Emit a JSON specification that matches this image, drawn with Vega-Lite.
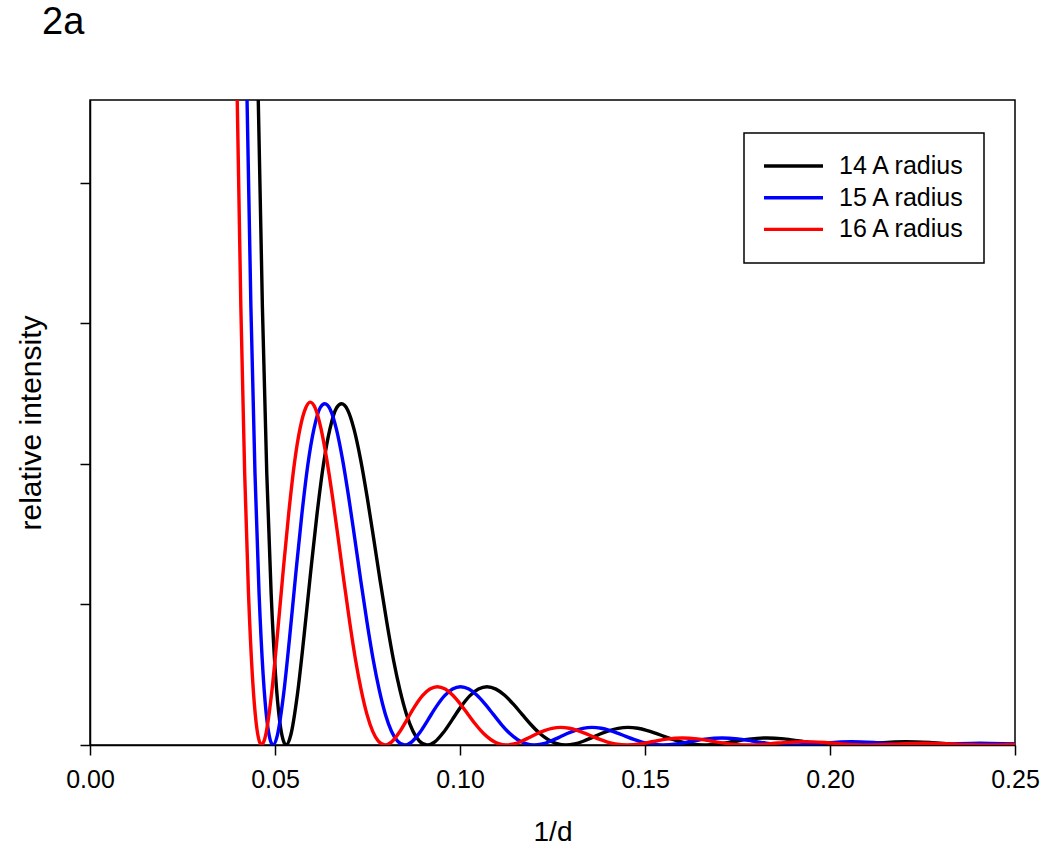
{
  "$schema": "https://vega.github.io/schema/vega-lite/v6.json",
  "autosize": {"type": "none"},
  "padding": {"left": 90, "top": 100, "right": 35, "bottom": 115},
  "width": 925,
  "height": 645,
  "background": "white",
  "title": {"text": "2a", "anchor": "start", "frame": "group", "dx": -48, "offset": 58, "fontSize": 38, "fontWeight": "normal", "font": "Liberation Sans", "color": "black"},
  "config": {
    "font": "Liberation Sans",
    "view": {"stroke": "black", "strokeWidth": 1.5},
    "axis": {"domainColor": "black", "domainWidth": 1.5, "tickColor": "black", "tickWidth": 1.5, "tickSize": 10, "grid": false, "labelColor": "black", "titleColor": "black", "labelFont": "Liberation Sans", "titleFont": "Liberation Sans", "labelFontSize": 25, "titleFontSize": 28, "titleFontWeight": "normal"},
    "legend": {"strokeWidth": 1.5}
  },
  "data": {"values": [
    {"r": "14 A radius", "s": 0.044237, "v": 6.646},
    {"r": "14 A radius", "s": 0.045417, "v": 4.670},
    {"r": "14 A radius", "s": 0.046597, "v": 3.113},
    {"r": "14 A radius", "s": 0.047776, "v": 1.934},
    {"r": "14 A radius", "s": 0.048956, "v": 1.079},
    {"r": "14 A radius", "s": 0.050136, "v": 0.501},
    {"r": "14 A radius", "s": 0.051315, "v": 0.1596},
    {"r": "14 A radius", "s": 0.052141, "v": 0.0405},
    {"r": "14 A radius", "s": 0.053002, "v": 0},
    {"r": "14 A radius", "s": 0.054264, "v": 0.0709},
    {"r": "14 A radius", "s": 0.056034, "v": 0.3556},
    {"r": "14 A radius", "s": 0.057803, "v": 0.7648},
    {"r": "14 A radius", "s": 0.059573, "v": 1.214},
    {"r": "14 A radius", "s": 0.061342, "v": 1.640},
    {"r": "14 A radius", "s": 0.063112, "v": 2.000},
    {"r": "14 A radius", "s": 0.064881, "v": 2.253},
    {"r": "14 A radius", "s": 0.066651, "v": 2.400},
    {"r": "14 A radius", "s": 0.067984, "v": 2.428},
    {"r": "14 A radius", "s": 0.069600, "v": 2.386},
    {"r": "14 A radius", "s": 0.071369, "v": 2.246},
    {"r": "14 A radius", "s": 0.073139, "v": 2.031},
    {"r": "14 A radius", "s": 0.074908, "v": 1.764},
    {"r": "14 A radius", "s": 0.076678, "v": 1.468},
    {"r": "14 A radius", "s": 0.078447, "v": 1.164},
    {"r": "14 A radius", "s": 0.080217, "v": 0.873},
    {"r": "14 A radius", "s": 0.081986, "v": 0.610},
    {"r": "14 A radius", "s": 0.083756, "v": 0.392},
    {"r": "14 A radius", "s": 0.085525, "v": 0.2195},
    {"r": "14 A radius", "s": 0.087295, "v": 0.0983},
    {"r": "14 A radius", "s": 0.089064, "v": 0.0272},
    {"r": "14 A radius", "s": 0.091129, "v": 0},
    {"r": "14 A radius", "s": 0.093193, "v": 0.0225},
    {"r": "14 A radius", "s": 0.095552, "v": 0.0903},
    {"r": "14 A radius", "s": 0.097912, "v": 0.1808},
    {"r": "14 A radius", "s": 0.100271, "v": 0.2731},
    {"r": "14 A radius", "s": 0.102630, "v": 0.3495},
    {"r": "14 A radius", "s": 0.104990, "v": 0.3981},
    {"r": "14 A radius", "s": 0.107290, "v": 0.4146},
    {"r": "14 A radius", "s": 0.109708, "v": 0.3978},
    {"r": "14 A radius", "s": 0.112068, "v": 0.3536},
    {"r": "14 A radius", "s": 0.114427, "v": 0.2902},
    {"r": "14 A radius", "s": 0.116786, "v": 0.2177},
    {"r": "14 A radius", "s": 0.119146, "v": 0.1457},
    {"r": "14 A radius", "s": 0.121505, "v": 0.0831},
    {"r": "14 A radius", "s": 0.123864, "v": 0.0372},
    {"r": "14 A radius", "s": 0.126224, "v": 0.0091},
    {"r": "14 A radius", "s": 0.128630, "v": 0},
    {"r": "14 A radius", "s": 0.130942, "v": 0.0073},
    {"r": "14 A radius", "s": 0.133302, "v": 0.0266},
    {"r": "14 A radius", "s": 0.135661, "v": 0.0527},
    {"r": "14 A radius", "s": 0.138020, "v": 0.0798},
    {"r": "14 A radius", "s": 0.140380, "v": 0.1030},
    {"r": "14 A radius", "s": 0.142739, "v": 0.1188},
    {"r": "14 A radius", "s": 0.145370, "v": 0.1251},
    {"r": "14 A radius", "s": 0.148047, "v": 0.1189},
    {"r": "14 A radius", "s": 0.150407, "v": 0.1045},
    {"r": "14 A radius", "s": 0.152766, "v": 0.0845},
    {"r": "14 A radius", "s": 0.155125, "v": 0.0618},
    {"r": "14 A radius", "s": 0.157485, "v": 0.0398},
    {"r": "14 A radius", "s": 0.159844, "v": 0.0212},
    {"r": "14 A radius", "s": 0.162203, "v": 0.0079},
    {"r": "14 A radius", "s": 0.165931, "v": 0},
    {"r": "14 A radius", "s": 0.169871, "v": 0.0073},
    {"r": "14 A radius", "s": 0.174000, "v": 0.0248},
    {"r": "14 A radius", "s": 0.178129, "v": 0.0418},
    {"r": "14 A radius", "s": 0.183024, "v": 0.0502},
    {"r": "14 A radius", "s": 0.187566, "v": 0.0433},
    {"r": "14 A radius", "s": 0.191695, "v": 0.0287},
    {"r": "14 A radius", "s": 0.195824, "v": 0.0130},
    {"r": "14 A radius", "s": 0.199952, "v": 0.0026},
    {"r": "14 A radius", "s": 0.203149, "v": 0},
    {"r": "14 A radius", "s": 0.207620, "v": 0.0042},
    {"r": "14 A radius", "s": 0.212339, "v": 0.0138},
    {"r": "14 A radius", "s": 0.220467, "v": 0.0239},
    {"r": "14 A radius", "s": 0.227674, "v": 0.0164},
    {"r": "14 A radius", "s": 0.233573, "v": 0.0056},
    {"r": "14 A radius", "s": 0.237112, "v": 0.0013},
    {"r": "14 A radius", "s": 0.240309, "v": 0},
    {"r": "14 A radius", "s": 0.247729, "v": 0.0052},
    {"r": "14 A radius", "s": 0.257803, "v": 0.0129},

    {"r": "15 A radius", "s": 0.041288, "v": 6.646},
    {"r": "15 A radius", "s": 0.042389, "v": 4.670},
    {"r": "15 A radius", "s": 0.043490, "v": 3.113},
    {"r": "15 A radius", "s": 0.044591, "v": 1.934},
    {"r": "15 A radius", "s": 0.045692, "v": 1.079},
    {"r": "15 A radius", "s": 0.046793, "v": 0.501},
    {"r": "15 A radius", "s": 0.047894, "v": 0.1596},
    {"r": "15 A radius", "s": 0.048665, "v": 0.0405},
    {"r": "15 A radius", "s": 0.049469, "v": 0},
    {"r": "15 A radius", "s": 0.050647, "v": 0.0709},
    {"r": "15 A radius", "s": 0.052298, "v": 0.3556},
    {"r": "15 A radius", "s": 0.053950, "v": 0.7648},
    {"r": "15 A radius", "s": 0.055602, "v": 1.214},
    {"r": "15 A radius", "s": 0.057253, "v": 1.640},
    {"r": "15 A radius", "s": 0.058905, "v": 2.000},
    {"r": "15 A radius", "s": 0.060556, "v": 2.253},
    {"r": "15 A radius", "s": 0.062208, "v": 2.400},
    {"r": "15 A radius", "s": 0.063452, "v": 2.428},
    {"r": "15 A radius", "s": 0.064960, "v": 2.386},
    {"r": "15 A radius", "s": 0.066612, "v": 2.246},
    {"r": "15 A radius", "s": 0.068263, "v": 2.031},
    {"r": "15 A radius", "s": 0.069915, "v": 1.764},
    {"r": "15 A radius", "s": 0.071566, "v": 1.468},
    {"r": "15 A radius", "s": 0.073218, "v": 1.164},
    {"r": "15 A radius", "s": 0.074869, "v": 0.873},
    {"r": "15 A radius", "s": 0.076521, "v": 0.610},
    {"r": "15 A radius", "s": 0.078172, "v": 0.392},
    {"r": "15 A radius", "s": 0.079824, "v": 0.2195},
    {"r": "15 A radius", "s": 0.081475, "v": 0.0983},
    {"r": "15 A radius", "s": 0.083127, "v": 0.0272},
    {"r": "15 A radius", "s": 0.085054, "v": 0},
    {"r": "15 A radius", "s": 0.086981, "v": 0.0225},
    {"r": "15 A radius", "s": 0.089183, "v": 0.0903},
    {"r": "15 A radius", "s": 0.091385, "v": 0.1808},
    {"r": "15 A radius", "s": 0.093587, "v": 0.2731},
    {"r": "15 A radius", "s": 0.095789, "v": 0.3495},
    {"r": "15 A radius", "s": 0.097991, "v": 0.3981},
    {"r": "15 A radius", "s": 0.100138, "v": 0.4146},
    {"r": "15 A radius", "s": 0.102395, "v": 0.3978},
    {"r": "15 A radius", "s": 0.104597, "v": 0.3536},
    {"r": "15 A radius", "s": 0.106799, "v": 0.2902},
    {"r": "15 A radius", "s": 0.109001, "v": 0.2177},
    {"r": "15 A radius", "s": 0.111203, "v": 0.1457},
    {"r": "15 A radius", "s": 0.113405, "v": 0.0831},
    {"r": "15 A radius", "s": 0.115607, "v": 0.0372},
    {"r": "15 A radius", "s": 0.117809, "v": 0.0091},
    {"r": "15 A radius", "s": 0.120055, "v": 0},
    {"r": "15 A radius", "s": 0.122213, "v": 0.0073},
    {"r": "15 A radius", "s": 0.124415, "v": 0.0266},
    {"r": "15 A radius", "s": 0.126617, "v": 0.0527},
    {"r": "15 A radius", "s": 0.128819, "v": 0.0798},
    {"r": "15 A radius", "s": 0.131021, "v": 0.1030},
    {"r": "15 A radius", "s": 0.133223, "v": 0.1188},
    {"r": "15 A radius", "s": 0.135679, "v": 0.1251},
    {"r": "15 A radius", "s": 0.138178, "v": 0.1189},
    {"r": "15 A radius", "s": 0.140380, "v": 0.1045},
    {"r": "15 A radius", "s": 0.142582, "v": 0.0845},
    {"r": "15 A radius", "s": 0.144784, "v": 0.0618},
    {"r": "15 A radius", "s": 0.146986, "v": 0.0398},
    {"r": "15 A radius", "s": 0.149188, "v": 0.0212},
    {"r": "15 A radius", "s": 0.151390, "v": 0.0079},
    {"r": "15 A radius", "s": 0.154870, "v": 0},
    {"r": "15 A radius", "s": 0.158547, "v": 0.0073},
    {"r": "15 A radius", "s": 0.162400, "v": 0.0248},
    {"r": "15 A radius", "s": 0.166254, "v": 0.0418},
    {"r": "15 A radius", "s": 0.170823, "v": 0.0502},
    {"r": "15 A radius", "s": 0.175062, "v": 0.0433},
    {"r": "15 A radius", "s": 0.178916, "v": 0.0287},
    {"r": "15 A radius", "s": 0.182769, "v": 0.0130},
    {"r": "15 A radius", "s": 0.186623, "v": 0.0026},
    {"r": "15 A radius", "s": 0.189607, "v": 0},
    {"r": "15 A radius", "s": 0.193780, "v": 0.0042},
    {"r": "15 A radius", "s": 0.198184, "v": 0.0138},
    {"r": "15 A radius", "s": 0.205770, "v": 0.0239},
    {"r": "15 A radius", "s": 0.212497, "v": 0.0164},
    {"r": "15 A radius", "s": 0.218002, "v": 0.0056},
    {"r": "15 A radius", "s": 0.221305, "v": 0.0013},
    {"r": "15 A radius", "s": 0.224289, "v": 0},
    {"r": "15 A radius", "s": 0.231214, "v": 0.0052},
    {"r": "15 A radius", "s": 0.240617, "v": 0.0129},
    {"r": "15 A radius", "s": 0.248831, "v": 0.0071},
    {"r": "15 A radius", "s": 0.254336, "v": 0.0017},

    {"r": "16 A radius", "s": 0.038708, "v": 6.646},
    {"r": "16 A radius", "s": 0.039740, "v": 4.670},
    {"r": "16 A radius", "s": 0.040772, "v": 3.113},
    {"r": "16 A radius", "s": 0.041804, "v": 1.934},
    {"r": "16 A radius", "s": 0.042836, "v": 1.079},
    {"r": "16 A radius", "s": 0.043869, "v": 0.501},
    {"r": "16 A radius", "s": 0.044901, "v": 0.1596},
    {"r": "16 A radius", "s": 0.045623, "v": 0.0405},
    {"r": "16 A radius", "s": 0.046377, "v": 0},
    {"r": "16 A radius", "s": 0.047481, "v": 0.0709},
    {"r": "16 A radius", "s": 0.049030, "v": 0.3556},
    {"r": "16 A radius", "s": 0.050578, "v": 0.7648},
    {"r": "16 A radius", "s": 0.052126, "v": 1.214},
    {"r": "16 A radius", "s": 0.053674, "v": 1.640},
    {"r": "16 A radius", "s": 0.055223, "v": 2.000},
    {"r": "16 A radius", "s": 0.056771, "v": 2.253},
    {"r": "16 A radius", "s": 0.058319, "v": 2.400},
    {"r": "16 A radius", "s": 0.059486, "v": 2.440},
    {"r": "16 A radius", "s": 0.060900, "v": 2.396},
    {"r": "16 A radius", "s": 0.062448, "v": 2.250},
    {"r": "16 A radius", "s": 0.063996, "v": 2.031},
    {"r": "16 A radius", "s": 0.065545, "v": 1.764},
    {"r": "16 A radius", "s": 0.067093, "v": 1.468},
    {"r": "16 A radius", "s": 0.068641, "v": 1.164},
    {"r": "16 A radius", "s": 0.070190, "v": 0.873},
    {"r": "16 A radius", "s": 0.071738, "v": 0.610},
    {"r": "16 A radius", "s": 0.073286, "v": 0.392},
    {"r": "16 A radius", "s": 0.074835, "v": 0.2195},
    {"r": "16 A radius", "s": 0.076383, "v": 0.0983},
    {"r": "16 A radius", "s": 0.077931, "v": 0.0272},
    {"r": "16 A radius", "s": 0.079737, "v": 0},
    {"r": "16 A radius", "s": 0.081544, "v": 0.0225},
    {"r": "16 A radius", "s": 0.083608, "v": 0.0903},
    {"r": "16 A radius", "s": 0.085673, "v": 0.1808},
    {"r": "16 A radius", "s": 0.087737, "v": 0.2731},
    {"r": "16 A radius", "s": 0.089801, "v": 0.3495},
    {"r": "16 A radius", "s": 0.091866, "v": 0.3981},
    {"r": "16 A radius", "s": 0.093879, "v": 0.4146},
    {"r": "16 A radius", "s": 0.095995, "v": 0.3978},
    {"r": "16 A radius", "s": 0.098059, "v": 0.3536},
    {"r": "16 A radius", "s": 0.100123, "v": 0.2902},
    {"r": "16 A radius", "s": 0.102188, "v": 0.2177},
    {"r": "16 A radius", "s": 0.104252, "v": 0.1457},
    {"r": "16 A radius", "s": 0.106317, "v": 0.0831},
    {"r": "16 A radius", "s": 0.108381, "v": 0.0372},
    {"r": "16 A radius", "s": 0.110445, "v": 0.0091},
    {"r": "16 A radius", "s": 0.112551, "v": 0},
    {"r": "16 A radius", "s": 0.114574, "v": 0.0073},
    {"r": "16 A radius", "s": 0.116639, "v": 0.0266},
    {"r": "16 A radius", "s": 0.118703, "v": 0.0527},
    {"r": "16 A radius", "s": 0.120767, "v": 0.0798},
    {"r": "16 A radius", "s": 0.122832, "v": 0.1030},
    {"r": "16 A radius", "s": 0.124896, "v": 0.1188},
    {"r": "16 A radius", "s": 0.127198, "v": 0.1251},
    {"r": "16 A radius", "s": 0.129541, "v": 0.1189},
    {"r": "16 A radius", "s": 0.131606, "v": 0.1045},
    {"r": "16 A radius", "s": 0.133670, "v": 0.0845},
    {"r": "16 A radius", "s": 0.135734, "v": 0.0618},
    {"r": "16 A radius", "s": 0.137799, "v": 0.0398},
    {"r": "16 A radius", "s": 0.139863, "v": 0.0212},
    {"r": "16 A radius", "s": 0.141928, "v": 0.0079},
    {"r": "16 A radius", "s": 0.145189, "v": 0},
    {"r": "16 A radius", "s": 0.148637, "v": 0.0073},
    {"r": "16 A radius", "s": 0.152250, "v": 0.0248},
    {"r": "16 A radius", "s": 0.155862, "v": 0.0418},
    {"r": "16 A radius", "s": 0.160146, "v": 0.0502},
    {"r": "16 A radius", "s": 0.164120, "v": 0.0433},
    {"r": "16 A radius", "s": 0.167733, "v": 0.0287},
    {"r": "16 A radius", "s": 0.171345, "v": 0.0130},
    {"r": "16 A radius", "s": 0.174958, "v": 0.0026},
    {"r": "16 A radius", "s": 0.177755, "v": 0},
    {"r": "16 A radius", "s": 0.181667, "v": 0.0042},
    {"r": "16 A radius", "s": 0.185796, "v": 0.0138},
    {"r": "16 A radius", "s": 0.192908, "v": 0.0239},
    {"r": "16 A radius", "s": 0.199215, "v": 0.0164},
    {"r": "16 A radius", "s": 0.204376, "v": 0.0056},
    {"r": "16 A radius", "s": 0.207472, "v": 0.0013},
    {"r": "16 A radius", "s": 0.210270, "v": 0},
    {"r": "16 A radius", "s": 0.216762, "v": 0.0052},
    {"r": "16 A radius", "s": 0.225577, "v": 0.0129},
    {"r": "16 A radius", "s": 0.233277, "v": 0.0071},
    {"r": "16 A radius", "s": 0.238438, "v": 0.0017},
    {"r": "16 A radius", "s": 0.242763, "v": 0},
    {"r": "16 A radius", "s": 0.249792, "v": 0.0034},
    {"r": "16 A radius", "s": 0.258164, "v": 0.0075}
  ]},
  "mark": {"type": "line", "interpolate": "monotone", "strokeWidth": 3.4, "clip": true},
  "encoding": {
    "x": {
      "field": "s", "type": "quantitative", "title": "1/d",
      "scale": {"domain": [0, 0.25], "nice": false, "zero": false},
      "axis": {"values": [0, 0.05, 0.1, 0.15, 0.2, 0.25], "format": ".2f", "labelPadding": 12, "titlePadding": 26, "labelFlush": false}
    },
    "y": {
      "field": "v", "type": "quantitative", "title": "relative intensity",
      "scale": {"domain": [0, 4.59], "nice": false, "zero": true},
      "axis": {"values": [0, 1, 2, 3, 4], "labels": false, "titlePadding": 33, "titleFontSize": 30}
    },
    "color": {
      "field": "r", "type": "nominal",
      "scale": {"domain": ["14 A radius", "15 A radius", "16 A radius"], "range": ["#000000", "#0000ff", "#ff0000"]},
      "legend": {"orient": "none", "legendX": 654, "legendY": 33, "title": null, "strokeColor": "black", "padding": 18, "symbolType": "stroke", "symbolSize": 3481, "symbolStrokeWidth": 3.4, "labelFontSize": 25, "labelFont": "Liberation Sans", "labelColor": "black", "labelOffset": 14, "clipHeight": 30, "rowPadding": 1.7}
    }
  }
}
